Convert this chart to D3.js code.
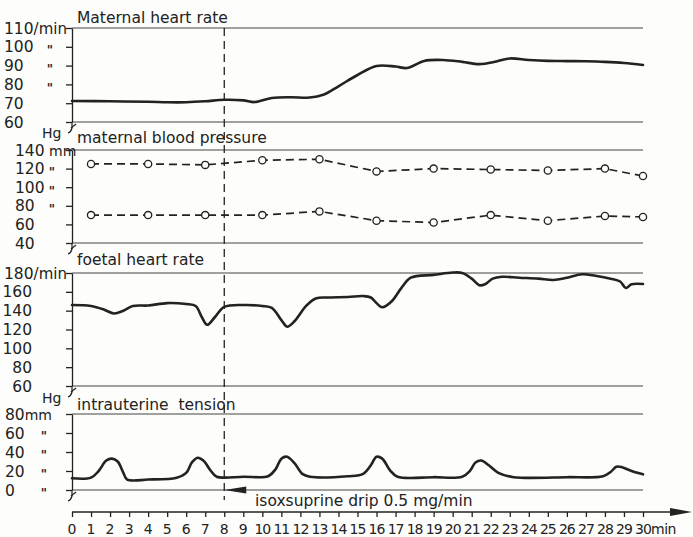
<!DOCTYPE html>
<html>
<head>
<meta charset="utf-8">
<script src="https://cdn.jsdelivr.net/npm/d3@7"></script>
<style>
  html, body { margin: 0; padding: 0; background: #fdfdfb; }
  svg { display: block; }
  text { font-family: "DejaVu Sans", "Liberation Sans", sans-serif; fill: #222; }
</style>
</head>
<body>
<svg id="chart" width="693" height="537"></svg>
<script>
// ---------------- DATA ----------------
const minutes = d3.range(0, 31);
const minuteLabels = minutes.map(String);

// Maternal heart rate (/min)
const mhrTime   = [0, 2, 4, 5, 6, 7, 8, 9, 9.6, 10.5, 11.5, 12.5, 13.2, 14, 15, 16, 17, 17.6, 18.5, 19.5, 20.5, 21.4, 22.3, 23, 24, 25, 26, 27, 28, 29, 30];
const mhrValues = [71.2, 71, 70.8, 70.5, 70.5, 71, 71.8, 71.5, 70.6, 72.8, 73.2, 73, 74.5, 79, 85, 89.8, 89.5, 88.7, 92.5, 93, 92, 90.8, 92.2, 93.8, 93, 92.5, 92.4, 92.3, 92, 91.4, 90.3];

// Maternal blood pressure (mm Hg)
const bpTime      = [1, 4, 7, 10, 13, 16, 19, 22, 25, 28, 30];
const bpSystolic  = [125, 125, 124, 129, 130, 117, 120, 119, 118, 120, 112];
const bpDiastolic = [70, 70, 70, 70, 74, 64, 62, 70, 64, 69, 68];

// Foetal heart rate (/min)
const fhrTime   = [0, 1, 1.7, 2.2, 2.7, 3.2, 4, 5, 6, 6.5, 6.8, 7.1, 7.5, 8, 9, 10, 10.5, 11, 11.3, 11.7, 12.3, 12.8, 13.5, 14.5, 15.3, 15.7, 16, 16.3, 16.8, 17.3, 17.8, 19, 20, 20.5, 21, 21.4, 21.7, 22.1, 22.6, 23.5, 24.5, 25.3, 26, 26.8, 27.5, 28.3, 28.8, 29.1, 29.4, 30];
const fhrValues = [146, 145, 141, 137, 140, 145, 145.5, 148, 147, 145, 134, 125, 133, 144, 146, 145, 143, 130, 123, 129, 145, 153, 154, 154.5, 155.5, 154, 148, 143.6, 150, 164, 175, 178, 180.5, 180, 174, 167, 168, 174, 176, 175, 174, 172.6, 175, 178.6, 177, 174, 171, 164, 168, 168.3];

// Intrauterine tension (mm Hg)
const iutTime   = [0, 1, 1.4, 1.8, 2.1, 2.4, 2.7, 2.9, 4, 5.5, 6, 6.3, 6.6, 6.9, 7.3, 7.6, 9, 10.3, 10.7, 11, 11.3, 11.7, 12.1, 12.5, 14.5, 15.3, 15.7, 16, 16.3, 16.7, 17.1, 19, 20.5, 20.9, 21.2, 21.5, 21.9, 22.4, 23.2, 26, 27.9, 28.3, 28.6, 28.9, 29.4, 30];
const iutValues = [12.3, 13, 20, 31, 33, 30, 18, 11, 11, 13, 18, 29, 34, 31, 20, 14, 14, 14.5, 22, 33, 35, 28, 17, 14, 14.5, 17, 26, 35, 33, 21, 14, 13.5, 14, 20, 29, 31, 26, 18, 13.5, 13.5, 14.5, 19, 24.5, 24, 20, 16.5];

// Axis tick values and labels
const p1Ticks = [60, 70, 80, 90, 100, 110];
const p1Suffix = ["", "", "ditto", "ditto", "ditto", "/min"];
const p2Ticks = [40, 60, 80, 100, 120, 140];
const p2Suffix = ["", "", "ditto", "ditto", "ditto", " mm"];
const p3Ticks = [60, 80, 100, 120, 140, 160, 180];
const p3Suffix = ["", "", "", "", "", "", "/min"];
const p4Ticks = [0, 20, 40, 60, 80];
const p4Suffix = ["ditto", "ditto", "ditto", "ditto", "mm"];

const infusionStart = 8;
const titles = ["Maternal heart rate", "maternal blood pressure", "foetal heart rate", "intrauterine  tension"];
const infusionLabel = "isoxsuprine drip 0.5 mg/min";

// ---------------- DRAWING ----------------
const svg = d3.select("#chart");
const ink = "#222";
const thin = "#444";

const x = d3.scaleLinear().domain([0, 30]).range([72, 643]);

const panels = [
  { y: d3.scaleLinear().domain([60, 110]).range([122, 28]),  ticks: p1Ticks, suffix: p1Suffix, numX: 4,  anchor: "start", dittoX: 50, title: titles[0], titleY: 23 },
  { y: d3.scaleLinear().domain([40, 140]).range([243, 150]), ticks: p2Ticks, suffix: p2Suffix, numX: 15, anchor: "start", dittoX: 52, title: titles[1], titleY: 143, hgY: 138 },
  { y: d3.scaleLinear().domain([60, 180]).range([386, 273]), ticks: p3Ticks, suffix: p3Suffix, numX: 32, anchor: "end",   dittoX: 50, title: titles[2], titleY: 265 },
  { y: d3.scaleLinear().domain([0, 80]).range([490, 414]),   ticks: p4Ticks, suffix: p4Suffix, numX: 5,  anchor: "start", dittoX: 44, title: titles[3], titleY: 410, hgY: 403 }
];

panels.forEach((p, i) => {
  const [d0, d1] = p.y.domain();
  // horizontal frame lines
  [d0, d1].forEach(v => {
    svg.append("line")
      .attr("x1", x(0)).attr("x2", x(30))
      .attr("y1", p.y(v)).attr("y2", p.y(v))
      .attr("stroke", thin).attr("stroke-width", 1.1);
  });
  // left axis with ticks
  const ax = d3.axisLeft(p.y).tickValues(p.ticks).tickSize(6).tickSizeOuter(0).tickFormat("");
  const g = svg.append("g").attr("transform", `translate(${x(0)},0)`).call(ax);
  g.selectAll("path, line").attr("stroke", ink).attr("stroke-width", 1.3);
  // extension of axis below and break mark
  const yb = p.y(d0);
  svg.append("path")
    .attr("d", `M${x(0)},${yb} L${x(0)},${yb + 6} Q${x(0) - 1},${yb + 10} ${x(0) - 4},${yb + 11}`)
    .attr("fill", "none").attr("stroke", ink).attr("stroke-width", 1.2);
  svg.append("path")
    .attr("d", `M${x(0) - 1},${yb + 6} L${x(0) + 4},${yb + 2}`)
    .attr("fill", "none").attr("stroke", ink).attr("stroke-width", 1.2);

  // tick labels
  p.ticks.forEach((t, k) => {
    const txt = svg.append("text")
      .attr("x", p.numX).attr("y", p.y(t))
      .attr("dy", "0.36em")
      .attr("text-anchor", p.anchor)
      .attr("font-size", 15.5)
      .attr("xml:space", "preserve")
      .style("white-space", "pre")
      .text(String(t));
    const s = p.suffix[k];
    if (s === "/min" || s.trim() === "mm") {
      if (p.anchor === "end") {
        txt.attr("text-anchor", "start").attr("x", p.numX - 28);
      }
      txt.append("tspan").attr("font-size", s.trim() === "mm" ? 14 : 15).text(s);
    } else if (s === "ditto") {
      svg.append("text")
        .attr("x", p.dittoX).attr("y", p.y(t))
        .attr("dy", "0.62em")
        .attr("text-anchor", "middle")
        .attr("font-size", 12)
        .attr("font-weight", "bold")
        .text("\"");
    }
  });

  if (p.hgY) {
    svg.append("text").attr("x", 42).attr("y", p.hgY)
      .attr("font-size", 14).text("Hg");
  }

  svg.append("text")
    .attr("x", 77).attr("y", p.titleY)
    .attr("font-size", 15.5)
    .attr("xml:space", "preserve")
    .style("white-space", "pre")
    .text(p.title);
});

// dashed vertical line at infusion start
svg.append("line")
  .attr("x1", x(infusionStart)).attr("x2", x(infusionStart))
  .attr("y1", 28).attr("y2", 500)
  .attr("stroke", ink).attr("stroke-width", 1.3)
  .attr("stroke-dasharray", "8,5");

// series lines
const curve = d3.curveCatmullRom.alpha(0.5);
function drawSeries(times, vals, yScale) {
  const line = d3.line().x((d, i) => x(times[i])).y(d => yScale(d)).curve(curve);
  svg.append("path")
    .attr("d", line(vals))
    .attr("fill", "none")
    .attr("stroke", ink)
    .attr("stroke-width", 2.6)
    .attr("stroke-linejoin", "round")
    .attr("stroke-linecap", "round");
}
drawSeries(mhrTime, mhrValues, panels[0].y);
drawSeries(fhrTime, fhrValues, panels[2].y);
drawSeries(iutTime, iutValues, panels[3].y);

// blood pressure dashed lines with open circles
[bpSystolic, bpDiastolic].forEach(vals => {
  const line = d3.line().x((d, i) => x(bpTime[i])).y(d => panels[1].y(d)).curve(d3.curveLinear);
  svg.append("path")
    .attr("d", line(vals))
    .attr("fill", "none")
    .attr("stroke", ink)
    .attr("stroke-width", 1.7)
    .attr("stroke-dasharray", "8,5");
  svg.selectAll(null).data(vals).enter().append("circle")
    .attr("cx", (d, i) => x(bpTime[i]))
    .attr("cy", d => panels[1].y(d))
    .attr("r", 3.6)
    .attr("fill", "#fdfdfb")
    .attr("stroke", ink)
    .attr("stroke-width", 1.3);
});

// infusion arrow on the zero line
const y0 = panels[3].y(0);
const ax0 = x(infusionStart);
svg.append("path")
  .attr("d", `M${ax0},${y0} L${ax0 + 22},${y0 - 3.5} L${ax0 + 22},${y0 + 3.5} Z`)
  .attr("fill", ink);
svg.append("text")
  .attr("x", 255).attr("y", 506)
  .attr("font-size", 15.5)
  .text(infusionLabel);

// bottom time axis
const bottomY = 512;
const bax = d3.axisBottom(x).tickValues(minutes).tickSize(5).tickSizeOuter(0).tickFormat("");
const bg = svg.append("g").attr("transform", `translate(0,${bottomY})`).call(bax);
bg.select(".domain").remove();
bg.selectAll("line").attr("stroke", ink).attr("stroke-width", 1.3);
svg.append("line")
  .attr("x1", x(0)).attr("x2", 676)
  .attr("y1", bottomY).attr("y2", bottomY)
  .attr("stroke", ink).attr("stroke-width", 1.6);
svg.append("path")
  .attr("d", `M692,${bottomY} L670,${bottomY - 4} L670,${bottomY + 4} Z`)
  .attr("fill", ink);
svg.selectAll(null).data(minutes).enter().append("text")
  .attr("x", d => x(d))
  .attr("y", 534)
  .attr("text-anchor", "middle")
  .attr("font-size", 14)
  .attr("letter-spacing", d => d >= 10 ? -1 : 0)
  .text((d, i) => minuteLabels[i]);
svg.append("text")
  .attr("x", 651).attr("y", 534)
  .attr("font-size", 14)
  .attr("letter-spacing", -0.5)
  .text("min");
</script>
</body>
</html>
